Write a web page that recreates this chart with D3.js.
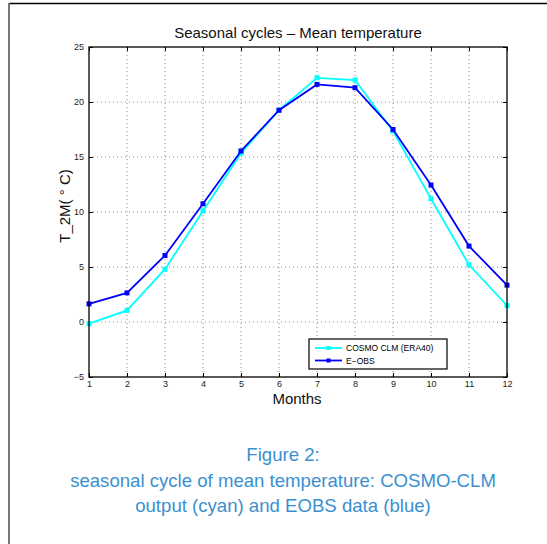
<!DOCTYPE html>
<html>
<head>
<meta charset="utf-8">
<script src="https://cdn.jsdelivr.net/npm/d3@7/dist/d3.min.js"></script>
<style>
  html, body { margin: 0; padding: 0; background: #fff; }
  svg { display: block; font-family: "Liberation Sans", Arial, sans-serif; }
</style>
</head>
<body>
<svg id="chart" width="547" height="544"></svg>
<script>
// Monthly mean 2 m temperature (°C)
const months = [1, 2, 3, 4, 5, 6, 7, 8, 9, 10, 11, 12];
const cosmoClm = [-0.15, 1.05, 4.8, 10.1, 15.35, 19.25, 22.2, 22.0, 17.35, 11.2, 5.2, 1.5];
const eObs = [1.65, 2.65, 6.05, 10.75, 15.55, 19.25, 21.6, 21.3, 17.5, 12.45, 6.9, 3.35];
const yTicks = [-5, 0, 5, 10, 15, 20, 25];
const seriesNames = ["COSMO CLM (ERA40)", "E\u2212OBS"];
const captionLines = [
  "Figure 2:",
  "seasonal cycle of mean temperature: COSMO-CLM",
  "output (cyan) and EOBS data (blue)"
];

const svg = d3.select("#chart");

// page frame
svg.append("line").attr("x1", 9).attr("x2", 547).attr("y1", 3.5).attr("y2", 3.5)
  .attr("stroke", "#000").attr("stroke-width", 1.5);
svg.append("line").attr("x1", 9).attr("x2", 9).attr("y1", 3).attr("y2", 544)
  .attr("stroke", "#777").attr("stroke-width", 2);

const plotL = 89, plotR = 507, plotT = 47, plotB = 377;
const x = d3.scaleLinear().domain([1, 12]).range([plotL, plotR]);
const y = d3.scaleLinear().domain([-5, 25]).range([plotB, plotT]);

// dotted grid
const grid = svg.append("g").attr("stroke", "#888").attr("stroke-width", 1)
  .attr("stroke-dasharray", "1,3");
months.slice(1, -1).forEach(m => {
  grid.append("line").attr("x1", x(m)).attr("x2", x(m)).attr("y1", plotT).attr("y2", plotB);
});
yTicks.slice(1, -1).forEach(v => {
  grid.append("line").attr("x1", plotL).attr("x2", plotR).attr("y1", y(v)).attr("y2", y(v));
});

// axes with inward ticks
const tickFont = g => g.selectAll("text").attr("font-size", 9).attr("fill", "#222")
  .attr("font-family", "Liberation Sans, Arial, sans-serif");
const fmt = d => d < 0 ? "\u2212" + Math.abs(d) : String(d);

svg.append("g").attr("transform", `translate(0,${plotB})`)
  .call(d3.axisBottom(x).tickValues(months).tickSize(-4).tickPadding(4).tickFormat(fmt))
  .call(g => g.select(".domain").remove()).call(tickFont);
svg.append("g").attr("transform", `translate(0,${plotT})`)
  .call(d3.axisTop(x).tickValues(months).tickSize(-4).tickFormat(""))
  .call(g => g.select(".domain").remove());
svg.append("g").attr("transform", `translate(${plotL},0)`)
  .call(d3.axisLeft(y).tickValues(yTicks).tickSize(-4).tickPadding(5).tickFormat(fmt))
  .call(g => g.select(".domain").remove()).call(tickFont);
svg.append("g").attr("transform", `translate(${plotR},0)`)
  .call(d3.axisRight(y).tickValues(yTicks).tickSize(-4).tickFormat(""))
  .call(g => g.select(".domain").remove());

// series
const series = [
  { name: seriesNames[0], values: cosmoClm, color: "#00ffff" },
  { name: seriesNames[1], values: eObs, color: "#0000ff" }
];
const line = d3.line().x((d, i) => x(months[i])).y(d => y(d));
series.forEach(s => {
  svg.append("path").datum(s.values).attr("d", line)
    .attr("fill", "none").attr("stroke", s.color).attr("stroke-width", 1.8);
  svg.append("g").selectAll("rect").data(s.values).join("rect")
    .attr("x", (d, i) => x(months[i]) - 2.5).attr("y", d => y(d) - 2.5)
    .attr("width", 5).attr("height", 5).attr("fill", s.color);
});

// axes box
svg.append("rect").attr("x", plotL).attr("y", plotT).attr("width", plotR - plotL)
  .attr("height", plotB - plotT).attr("fill", "none").attr("stroke", "#000").attr("stroke-width", 1.3);

// legend
const lg = svg.append("g").attr("transform", "translate(309,339)");
lg.append("rect").attr("width", 138).attr("height", 30).attr("fill", "#fff")
  .attr("stroke", "#000").attr("stroke-width", 1.2);
series.forEach((s, i) => {
  const ly = 9 + i * 12.5;
  lg.append("line").attr("x1", 6).attr("x2", 33).attr("y1", ly).attr("y2", ly)
    .attr("stroke", s.color).attr("stroke-width", 1.8);
  lg.append("rect").attr("x", 17.5).attr("y", ly - 2).attr("width", 4).attr("height", 4).attr("fill", s.color);
  lg.append("text").attr("x", 37).attr("y", ly + 3).attr("font-size", 8.5).attr("fill", "#000").text(s.name);
});

// titles
svg.append("text").attr("x", 298).attr("y", 38).attr("text-anchor", "middle")
  .attr("font-size", 15).attr("fill", "#111").text("Seasonal cycles \u2013 Mean temperature");
svg.append("text").attr("x", 297).attr("y", 404).attr("text-anchor", "middle")
  .attr("font-size", 15).attr("fill", "#111").text("Months");
svg.append("text").attr("transform", "translate(70,206) rotate(-90)")
  .attr("text-anchor", "middle").attr("font-size", 15).attr("fill", "#111")
  .text("T_2M( \u00b0 C)");

// caption
svg.append("g").selectAll("text").data(captionLines).join("text")
  .attr("x", 283).attr("y", (d, i) => 461 + i * 25.5).attr("text-anchor", "middle")
  .attr("font-size", 18.6).attr("fill", "#3b8fd0").text(d => d);
</script>
</body>
</html>
